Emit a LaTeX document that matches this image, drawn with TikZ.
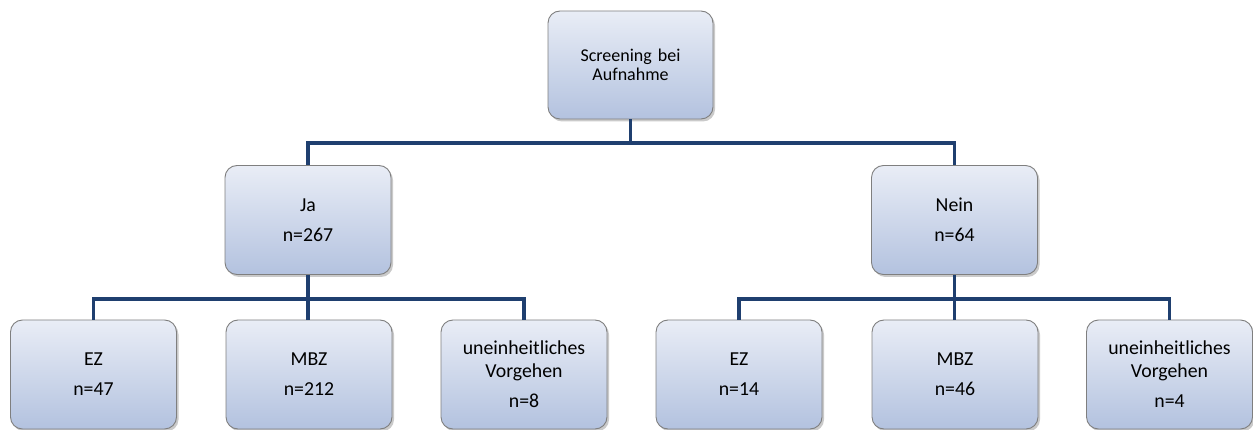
\documentclass[tikz,border=0pt]{standalone}
\usepackage{fontspec}
\setmainfont{Carlito}
\usetikzlibrary{shadows}
\definecolor{boxtop}{HTML}{E9EDF6}
\definecolor{boxbot}{HTML}{B3C2DF}
\definecolor{boxline}{HTML}{7F7F7F}
\definecolor{conn}{HTML}{1F3F6F}
\tikzset{
  box/.style={draw=boxline, line width=0.9pt, rounded corners=12pt,
    top color=boxtop, bottom color=boxbot,
    minimum width=166pt, minimum height=109pt, inner sep=0pt,
    align=center, text width=164pt,
    font=\fontsize{19.8}{23}\selectfont,
    drop shadow={shadow xshift=2pt, shadow yshift=-2.5pt, opacity=0.35, fill=black!60}},
  conn/.style={draw=conn, line width=3.3pt}
}
\begin{document}
\begin{tikzpicture}[x=1pt,y=-1pt]
\useasboundingbox (0,0) rectangle (1253,430);
\begin{scope}
\clip (0,0) rectangle (1253,430);
\node[box, minimum width=165pt, minimum height=108pt, font=\fontsize{18}{19.5}\selectfont] (top) at (630.5,65) {Screening bei\\Aufnahme};
\node[box] (ja) at (308,220) {Ja\\[7pt]n=267};
\node[box] (nein) at (954.5,220) {Nein\\[7pt]n=64};
\node[box] (ez1) at (93.5,374.5) {EZ\\[7pt]n=47};
\node[box] (mbz1) at (309,374.5) {MBZ\\[7pt]n=212};
\node[box] (un1) at (524,374.5) {uneinheitliches\\Vorgehen\\[7pt]n=8};
\node[box] (ez2) at (739,374.5) {EZ\\[7pt]n=14};
\node[box] (mbz2) at (955,374.5) {MBZ\\[7pt]n=46};
\node[box] (un2) at (1169.5,374.5) {uneinheitliches\\Vorgehen\\[7pt]n=4};
\coordinate (bus1) at (0,143);
\coordinate (bus2) at (0,299);
\draw[conn] (top.south) -- (top.south |- bus1) -| (ja.north);
\draw[conn] (top.south |- bus1) -| (nein.north);
\draw[conn] (ja.south) -- (ja.south |- bus2) -| (ez1.north);
\draw[conn] (ja.south |- bus2) -| (un1.north);
\draw[conn] (ja.south |- bus2) -- (ja.south |- mbz1.north);
\draw[conn] (nein.south) -- (nein.south |- bus2) -| (ez2.north);
\draw[conn] (nein.south |- bus2) -| (un2.north);
\draw[conn] (nein.south |- bus2) -- (nein.south |- mbz2.north);
\end{scope}
\end{tikzpicture}
\end{document}
